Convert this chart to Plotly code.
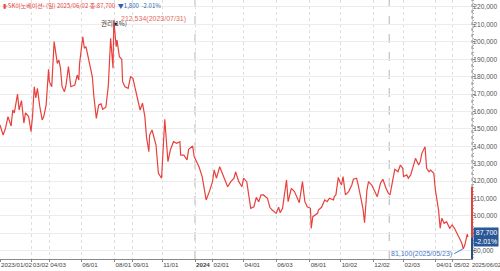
import plotly.graph_objects as go

stock_name = "SK이노베이션"

dates = [
    "2023-01-02", "2023-01-06", "2023-01-11", "2023-01-16", "2023-01-20", "2023-01-26", "2023-01-30",
    "2023-02-03", "2023-02-07", "2023-02-10", "2023-02-15", "2023-02-17", "2023-02-23", "2023-02-28",
    "2023-03-03", "2023-03-07", "2023-03-09", "2023-03-13", "2023-03-16", "2023-03-21", "2023-03-23",
    "2023-03-28", "2023-03-31", "2023-04-03", "2023-04-06", "2023-04-11", "2023-04-17", "2023-04-19",
    "2023-04-21", "2023-04-25", "2023-04-28", "2023-05-03", "2023-05-09", "2023-05-12", "2023-05-19",
    "2023-05-24", "2023-05-26", "2023-05-30", "2023-06-05", "2023-06-08", "2023-06-12", "2023-06-16",
    "2023-06-22", "2023-06-26", "2023-06-29", "2023-07-04", "2023-07-07", "2023-07-11", "2023-07-17",
    "2023-07-20", "2023-07-25", "2023-07-28", "2023-07-31", "2023-08-03", "2023-08-04", "2023-08-09",
    "2023-08-14", "2023-08-16", "2023-08-21", "2023-08-25", "2023-08-30", "2023-09-04", "2023-09-08",
    "2023-09-15", "2023-09-20", "2023-09-25", "2023-09-27", "2023-10-06", "2023-10-10", "2023-10-13",
    "2023-10-20", "2023-10-25", "2023-10-31", "2023-11-06", "2023-11-10", "2023-11-15", "2023-11-21",
    "2023-11-27", "2023-12-01", "2023-12-04", "2023-12-08", "2023-12-14", "2023-12-18", "2023-12-22",
    "2023-12-26", "2023-12-28", "2024-01-09", "2024-01-15", "2024-01-22", "2024-01-26", "2024-02-01",
    "2024-02-05", "2024-02-08", "2024-02-16", "2024-02-23", "2024-02-29", "2024-03-04", "2024-03-08",
    "2024-03-14", "2024-03-18", "2024-03-22", "2024-03-28", "2024-04-01", "2024-04-05", "2024-04-11",
    "2024-04-15", "2024-04-19", "2024-04-24", "2024-04-29", "2024-05-03", "2024-05-09", "2024-05-17",
    "2024-05-22", "2024-05-27", "2024-06-03", "2024-06-07", "2024-06-11", "2024-06-14", "2024-06-18",
    "2024-06-21", "2024-06-25", "2024-07-01", "2024-07-05", "2024-07-09", "2024-07-15", "2024-07-19",
    "2024-07-24", "2024-07-29", "2024-08-02", "2024-08-05", "2024-08-07", "2024-08-16", "2024-08-19",
    "2024-08-23", "2024-08-29", "2024-09-03", "2024-09-06", "2024-09-13", "2024-09-19", "2024-09-23",
    "2024-09-26", "2024-09-30", "2024-10-04", "2024-10-08", "2024-10-14", "2024-10-18", "2024-10-24",
    "2024-10-28", "2024-11-01", "2024-11-05", "2024-11-08", "2024-11-13", "2024-11-15", "2024-11-20",
    "2024-11-22", "2024-11-28", "2024-12-03", "2024-12-09", "2024-12-13", "2024-12-18", "2024-12-24",
    "2024-12-30", "2025-01-03", "2025-01-08", "2025-01-13", "2025-01-17", "2025-01-22", "2025-01-31",
    "2025-02-03", "2025-02-07", "2025-02-11", "2025-02-14", "2025-02-20", "2025-02-24", "2025-02-28",
    "2025-03-05", "2025-03-07", "2025-03-13", "2025-03-17", "2025-03-20", "2025-03-24", "2025-03-28",
    "2025-04-01", "2025-04-04", "2025-04-07", "2025-04-09", "2025-04-11", "2025-04-16", "2025-04-21",
    "2025-04-25", "2025-04-30", "2025-05-08", "2025-05-13", "2025-05-16", "2025-05-21", "2025-05-23",
    "2025-05-27", "2025-05-30", "2025-06-02",
]

close = [
    152200, 146400, 150500, 157000, 151600, 160800, 159100,
    170000, 160800, 166200, 153300, 159100, 157000, 148300,
    157900, 174200, 167700, 173300, 162700, 155100, 157000,
    163700, 184200, 177100, 174200, 200100, 187600, 189500,
    184800, 174200, 171300, 175200, 185700, 174200, 175200,
    180900, 178000, 187600, 202900, 196300, 197200, 187600,
    179900, 168400, 156000, 163700, 164300, 161200, 162400,
    174200, 202000, 184800, 212534, 197200, 201000, 191400,
    189900, 177100, 174200, 173300, 179900, 179000, 171300,
    160800, 164700, 157000, 145500, 136800, 146400, 149300,
    140700, 124400, 121600, 155500, 131100, 137800, 142600,
    141700, 142600, 134900, 134900, 132100, 138200, 139400,
    140100, 134000, 128200, 122500, 109100, 113900, 119600,
    126300, 121600, 128200, 122500, 118700, 116700, 119600,
    121600, 125300, 119600, 116700, 121600, 119600, 111000,
    104300, 105200, 110600, 108100, 112000, 112000, 110100,
    104900, 103300, 101400, 104900, 101800, 104300, 111000,
    120600, 108100, 115800, 113900, 112000, 107500, 119600,
    108100, 105200, 104300, 92800, 99500, 101400, 103300,
    104900, 109100, 108100, 110100, 109100, 111000, 112000,
    122100, 119600, 117700, 122500, 112000, 113900, 117700,
    121000, 121600, 117700, 110100, 104300, 96000, 114800,
    119600, 117700, 114800, 111000, 118700, 121000, 115800,
    112900, 112000, 119600, 126700, 125300, 129200, 127300,
    122500, 123500, 121600, 123500, 129200, 133000, 129200,
    131100, 135900, 139700, 127300, 125300, 126300, 124400,
    114800, 105200, 103300, 92800, 98600, 95700, 96600,
    92800, 94700, 92800, 89900, 87100, 84500, 81100,
    83200, 89500, 87700,
]

tick_dates = ["2023-01-02", "2023-03-02", "2023-04-03", "2023-06-01", "2023-08-01", "2023-09-01",
              "2023-11-01", "2024-01-02", "2024-02-01", "2024-04-01", "2024-06-03", "2024-08-01",
              "2024-10-02", "2024-12-02", "2025-02-03", "2025-04-01", "2025-05-02"]
tick_text = ["2023/01/02", "03/02", "04/03", "06/01", "08/01", "09/01", "11/01", "<b>2024</b>",
             "02/01", "04/01", "06/03", "08/01", "10/02", "12/02", "02/03", "04/01", "05/02"]

year_starts = ["2024-01-02", "2025-01-02"]

kr_holidays = ["2023-01-23", "2023-01-24", "2023-03-01", "2023-05-01", "2023-05-05", "2023-05-29",
               "2023-06-06", "2023-08-15", "2023-09-28", "2023-09-29", "2023-10-02", "2023-10-03",
               "2023-10-09", "2023-12-25", "2023-12-29", "2024-01-01", "2024-02-09", "2024-02-12",
               "2024-03-01", "2024-04-10", "2024-05-01", "2024-05-06", "2024-05-15", "2024-06-06",
               "2024-08-15", "2024-09-16", "2024-09-17", "2024-09-18", "2024-10-01", "2024-10-03",
               "2024-10-09", "2024-12-25", "2024-12-31", "2025-01-01", "2025-01-27", "2025-01-28",
               "2025-01-29", "2025-01-30", "2025-03-03", "2025-05-01", "2025-05-05", "2025-05-06",
               "2025-06-03", "2025-06-06"]

rights_label = "권리(1%)"
axis_band_top = 116500

x_range = ["2023-01-02", "2025-06-11"]
y_range = [75170, 224020]

RED = "#e8413c"
BLUE = "#2f5fb3"
FONT = "Liberation Sans, Noto Sans CJK KR, sans-serif"
KFONT = "Noto Sans CJK KR, Liberation Sans, sans-serif"

last = close[-1]
prev = close[-2]
chg = last - prev
pct = chg / prev * 100
imax = close.index(max(close))
imin = close.index(min(close))

fig = go.Figure()
fig.add_trace(go.Scatter(x=dates, y=close, mode="lines",
                         line=dict(color=RED, width=1.2), hoverinfo="skip"))

shapes = []
for ys in year_starts:
    shapes.append(dict(type="line", xref="x", yref="paper", x0=ys, x1=ys, y0=0, y1=1,
                       line=dict(color="#b5b5b5", width=1, dash="dash"), layer="below"))
shapes.append(dict(type="line", xref="paper", yref="paper", x0=1, x1=1, y0=0, y1=1,
                   line=dict(color="#8a8a8a", width=1, dash="dot")))
shapes.append(dict(type="line", xref="paper", yref="y", x0=1, x1=1, y0=last, y1=axis_band_top,
                   line=dict(color="#e8413c", width=2)))
shapes.append(dict(type="line", xref="paper", yref="y", x0=1, x1=1, y0=y_range[0], y1=last,
                   line=dict(color="#2b4f8c", width=2)))

arrow = "▼" if chg < 0 else "▲"
title_html = (f"<span style='color:{RED}'>▮‹{stock_name}› (일) {dates[-1].replace('-', '/')} 종:{last:,}</span>"
              f"  <span style='color:{BLUE}'>{arrow}{abs(chg):,}  {pct:.2f}%</span>")

annotations = [
    dict(xref="paper", yref="paper", x=0.002, y=1.0, xanchor="left", yanchor="top", yshift=1,
         text=title_html, showarrow=False, font=dict(family=KFONT, size=6)),
    dict(x=dates[imax], y=close[imax], xanchor="left", yanchor="middle", xshift=5, yshift=1,
         text=f"{close[imax]:,}({dates[imax].replace('-', '/')})", showarrow=False,
         font=dict(family=FONT, size=7, color="#e36a5e")),
    dict(x=dates[imax], y=close[imax], xanchor="center", yanchor="middle", xshift=0, yshift=-3,
         text=rights_label, showarrow=False, font=dict(family=KFONT, size=6.5, color="#333333")),
    dict(x=dates[imax], y=close[imax], ax=0, ay=-5, showarrow=True, arrowhead=2, arrowsize=0.6,
         arrowwidth=1, arrowcolor="#222222", yshift=-6, xshift=2, text=""),
    dict(x=dates[imin], y=close[imin], xanchor="right", yanchor="middle", ax=-9, ay=5,
         showarrow=True, arrowhead=0, arrowwidth=1, arrowcolor="#4a78c8",
         text=f"{close[imin]:,}({dates[imin].replace('-', '/')})",
         font=dict(family=FONT, size=7, color="#4a78c8")),
    dict(xref="paper", yref="y", x=1.0, y=last, xanchor="left", yanchor="middle", xshift=1,
         text=f"{last:,}<br>{pct:.2f}%", showarrow=False, align="right",
         bgcolor="#2b5797", borderpad=1, font=dict(family=FONT, size=7, color="white")),
    dict(xref="paper", yref="paper", x=1.0, y=0, xanchor="left", yanchor="top", yshift=-1, xshift=-2,
         text=dates[-1].replace('-', '/'), showarrow=False,
         font=dict(family=FONT, size=5.8, color="#444444")),
]

fig.update_layout(
    width=500, height=271,
    margin=dict(l=0, r=28, t=0, b=12, autoexpand=False),
    paper_bgcolor="white", plot_bgcolor="white",
    showlegend=False,
    shapes=shapes,
    annotations=annotations,
    xaxis=dict(
        type="date", range=x_range, automargin=False,
        rangebreaks=[dict(bounds=["sat", "mon"]), dict(values=kr_holidays)],
        tickvals=tick_dates, ticktext=tick_text, tickangle=0,
        ticklabelposition="outside right",
        tickfont=dict(family=FONT, size=6.2, color="#444444"),
        showgrid=True, gridcolor="#dedede", griddash="dot", gridwidth=1,
        ticks="outside", ticklen=2, tickcolor="#888888",
        showline=True, linecolor="#888888", linewidth=1,
        zeroline=False,
    ),
    yaxis=dict(
        side="right", range=y_range, dtick=10000, tick0=0, tickformat=",", automargin=False,
        tickfont=dict(family=FONT, size=6.6, color="#555555"),
        ticklabelstandoff=-3,
        showgrid=True, gridcolor="#ececec", gridwidth=1,
        ticks="outside", ticklen=2, tickcolor="#888888",
        minor=dict(dtick=2000, ticks="outside", ticklen=1, tickcolor="#aaaaaa", showgrid=False),
        showline=True, mirror=True, linecolor="#d0d0d0", zeroline=False,
    ),
)

fig.write_html("out.html")
